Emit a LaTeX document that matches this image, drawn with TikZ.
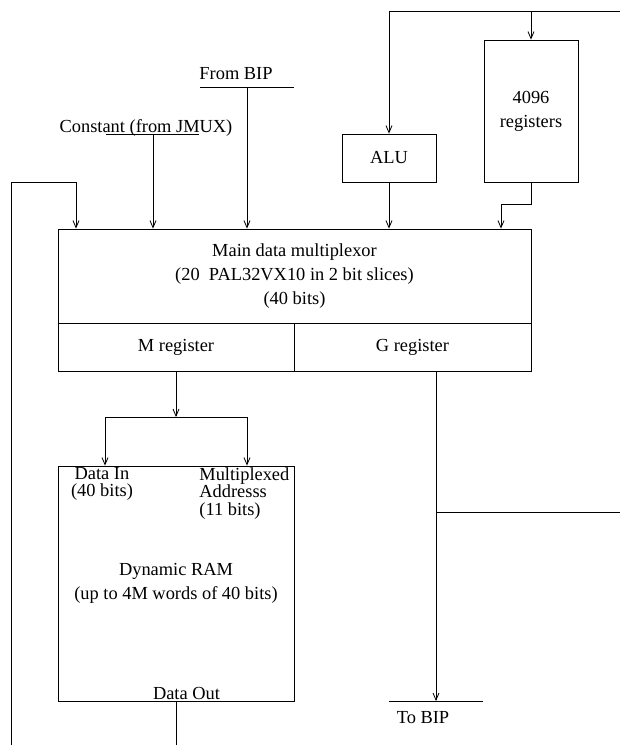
\documentclass[tikz,border=0pt]{standalone}
\usepackage{fontspec}
\setmainfont{Liberation Serif}
\usetikzlibrary{arrows.meta,calc}
\begin{document}
\begin{tikzpicture}[x=1pt,y=-1pt,line width=0.8pt,
  every node/.style={font=\fontsize{18.4pt}{24pt}\selectfont},
  box/.style={draw,rectangle,inner sep=0pt,align=center},
  lbl/.style={inner sep=0pt,anchor=base},
  arr/.style={-{Straight Barb[length=7pt,width=6pt]}}]
\useasboundingbox (0,0) rectangle (620,745);
% boxes
\node[box,minimum width=473pt,minimum height=94pt] (main) at (294.5,276) {Main data multiplexor\\(20\ \ PAL32VX10 in 2 bit slices)\\(40 bits)};
\node[box,minimum width=236pt,minimum height=48pt] (mreg) at (176,347) {M register};
\node[box,minimum width=237pt,minimum height=48pt] (greg) at (412.5,347) {G register};
\node[box,minimum width=94pt,minimum height=48pt] (alu) at (389,158) {ALU};
\node[box,minimum width=94pt,minimum height=142pt] (regs) at (531,111) {4096\\registers};
\node[box,minimum width=236pt,minimum height=235pt] (ram) at (176,583.5) {Dynamic RAM\\(up to 4M words of 40 bits)};
% labels
\node[lbl] (const) at (146,132) {Constant (from JMUX)};
\node[lbl] (frombip) at (236,79) {From BIP};
\node[lbl] (tobip) at (423,723) {To BIP};
\node[lbl] (dout) at (186.5,699) {Data Out};
\node[inner sep=0pt,anchor=north,align=center,font=\fontsize{18.4pt}{17.5pt}\selectfont] (din) at (102,467) {Data In\\(40 bits)};
\node[inner sep=0pt,anchor=north west,align=left,font=\fontsize{18.4pt}{17.5pt}\selectfont] (maddr) at (199,467) {Multiplexed\\Addresss\\(11 bits)};
% coordinates
\coordinate (lb) at (11,745);
\coordinate (lt) at (76,182);
\coordinate (cl) at (106,134);
\coordinate (cr) at (199,134);
\coordinate (cc) at (153,134);
\coordinate (bl) at (200,87);
\coordinate (br) at (294,87);
\coordinate (bc) at (247,87);
\coordinate (tr) at (620,11);
\coordinate (trm) at (531,11);
\coordinate (rj) at (501,204);
\coordinate (sp) at (176,417);
\coordinate (sl) at (105,417);
\coordinate (sr) at (247,417);
\coordinate (gt) at (436,371);
\coordinate (gb) at (436,701);
\coordinate (gj) at (436,512);
\coordinate (gr) at (620,512);
\coordinate (tl) at (389,701);
\coordinate (tbr) at (483,701);
\coordinate (db) at (176,745);
% connectors
\draw[arr] (lb) |- (lt) -- (lt |- main.north);
\draw (cl) -- (cr);
\draw[arr] (cc) -- (cc |- main.north);
\draw (bl) -- (br);
\draw[arr] (bc) -- (bc |- main.north);
\draw[arr] (tr) -| (alu.north);
\draw[arr] (trm) -- (regs.north);
\draw[arr] (alu.south) -- (alu.south |- main.north);
\draw[arr] (regs.south) |- (rj) -- (rj |- main.north);
\draw[arr] (mreg.south) -- (sp);
\draw (sl) -- (sr);
\draw[arr] (sl) -- (sl |- ram.north);
\draw[arr] (sr) -- (sr |- ram.north);
\draw[arr] (gt) -- (gb);
\draw (gj) -- (gr);
\draw (tl) -- (tbr);
\draw (ram.south) -- (db);
\end{tikzpicture}
\end{document}
